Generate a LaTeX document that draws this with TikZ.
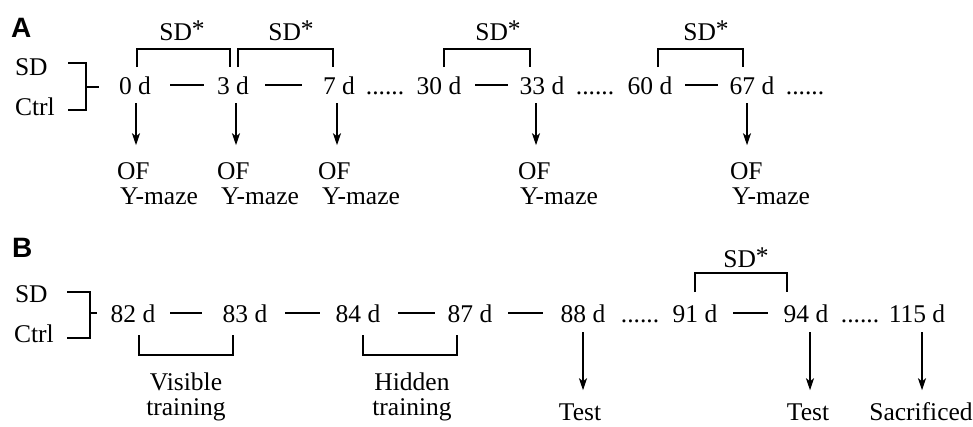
\documentclass[tikz,border=0pt]{standalone}
\usepackage{fontspec}
\setmainfont{Liberation Serif}
\newfontfamily\panelfont{Liberation Sans}
\usetikzlibrary{arrows.meta}
\newcommand{\sdstar}{SD\raisebox{2.5pt}{*}}
\begin{document}
\begin{tikzpicture}[x=1pt,y=-1pt,
  txt/.style={font=\fontsize{25.5}{24.5}\selectfont, inner sep=0pt, outer sep=0pt},
  day/.style={txt, anchor=base},
  lefttxt/.style={txt, anchor=base west},
  panel/.style={font=\panelfont\bfseries\fontsize{28}{28}\selectfont, inner sep=0pt, anchor=base west},
  ln/.style={line width=1.9pt},
  arr/.style={line width=1.9pt, -{Stealth[length=12pt,width=8pt,inset=3pt]}},
  lab/.style={txt, anchor=north west, align=left},
  clab/.style={txt, anchor=north, align=center},
]
\useasboundingbox (0,0) rectangle (973,426);

% ---------------- Panel A ----------------
\node[panel] (pA) at (11,37) {A};
\node[lefttxt] (sdA) at (15,75) {SD};
\node[lefttxt] (ctA) at (15,115) {Ctrl};
\draw[ln] (68,63) -- (86,63) -- (86,110) -- (68,110);
\draw[ln] (86,87) -- (99,87);

\node[day] (d0)  at (135,94) {0 d};
\node[day] (d3)  at (233,94) {3 d};
\node[day] (d7)  at (339,94) {7 d};
\node[day] (e1)  at (385,94) {......};
\node[day] (d30) at (439,94) {30 d};
\node[day] (d33) at (542,94) {33 d};
\node[day] (e2)  at (595,94) {......};
\node[day] (d60) at (650,94) {60 d};
\node[day] (d67) at (752,94) {67 d};
\node[day] (e3)  at (805,94) {......};

\draw[ln, shorten <=35pt, shorten >=29pt] (d0.center) -- (d3.center);
\draw[ln, shorten <=32pt, shorten >=37pt] (d3.center) -- (d7.center);
\draw[ln, shorten <=36pt, shorten >=34pt] (d30.center) -- (d33.center);
\draw[ln, shorten <=35pt, shorten >=34pt] (d60.center) -- (d67.center);

% SD* brackets
\node[day] (sa1) at (182,40) {\sdstar};
\node[day] (sa2) at (291,40) {\sdstar};
\node[day] (sa3) at (498,40) {\sdstar};
\node[day] (sa4) at (706,40) {\sdstar};
\draw[ln] (137,67) -- (137,49) -- (230,49) -- (230,67);
\draw[ln] (238,67) -- (238,49) -- (333,49) -- (333,67);
\draw[ln] (444,67) -- (444,49) -- (530,49) -- (530,67);
\draw[ln] (658,67) -- (658,49) -- (743,49) -- (743,67);

% tests
\node[lab] (o0)  at (117,163) {OF\\\hspace*{3pt}Y-maze};
\node[lab] (o3)  at (217,163) {OF\\\hspace*{4pt}Y-maze};
\node[lab] (o7)  at (318,163) {OF\\\hspace*{4pt}Y-maze};
\node[lab] (o33) at (518,163) {OF\\\hspace*{2pt}Y-maze};
\node[lab] (o67) at (730,163) {OF\\\hspace*{2pt}Y-maze};
\draw[arr] ([xshift=1pt,yshift=-9pt]d0.south)  -- ([xshift=1pt,yshift=-51pt]d0.south);
\draw[arr] ([xshift=3pt,yshift=-9pt]d3.south)  -- ([xshift=3pt,yshift=-51pt]d3.south);
\draw[arr] ([xshift=-2pt,yshift=-9pt]d7.south) -- ([xshift=-2pt,yshift=-51pt]d7.south);
\draw[arr] ([xshift=-6pt,yshift=-9pt]d33.south) -- ([xshift=-6pt,yshift=-51pt]d33.south);
\draw[arr] ([xshift=-5pt,yshift=-9pt]d67.south) -- ([xshift=-5pt,yshift=-51pt]d67.south);

% ---------------- Panel B ----------------
\node[panel] (pB) at (12,257) {B};
\node[lefttxt] (sdB) at (15,302) {SD};
\node[lefttxt] (ctB) at (14,342) {Ctrl};
\draw[ln] (67,292) -- (90,292) -- (90,338) -- (67,338);
\draw[ln] (90,313) -- (97,313);

\node[day] (n82)  at (133,322) {82 d};
\node[day] (n83)  at (245,322) {83 d};
\node[day] (n84)  at (358,322) {84 d};
\node[day] (n87)  at (470,322) {87 d};
\node[day] (n88)  at (583,322) {88 d};
\node[day] (f1)   at (640,322) {......};
\node[day] (n91)  at (695,322) {91 d};
\node[day] (n94)  at (806,322) {94 d};
\node[day] (f2)   at (860,322) {......};
\node[day] (n115) at (917,322) {115 d};

\draw[ln, shorten <=37pt, shorten >=43pt] (n82.center) -- (n83.center);
\draw[ln, shorten <=40pt, shorten >=38pt] (n83.center) -- (n84.center);
\draw[ln, shorten <=40pt, shorten >=35pt] (n84.center) -- (n87.center);
\draw[ln, shorten <=38pt, shorten >=40pt] (n87.center) -- (n88.center);
\draw[ln, shorten <=38pt, shorten >=38pt] (n91.center) -- (n94.center);

\node[day] (sb1) at (746,267) {\sdstar};
\draw[ln] (695,292) -- (695,273) -- (787,273) -- (787,292);

% training brackets
\draw[ln] (139,335) -- (139,355) -- (233,355) -- (233,335);
\draw[ln] (363,335) -- (363,355) -- (457,355) -- (457,335);
\node[clab] (vis) at (186,373) {Visible\\training};
\node[clab] (hid) at (412,373) {Hidden\\training};

% outcomes
\node[day] (t88)  at (580,420) {Test};
\node[day] (t94)  at (808,420) {Test};
\node[day] (t115) at (921,420) {Sacrificed};
\draw[arr] ([yshift=-10pt]n88.south) -- ([yshift=-68pt]n88.south);
\draw[arr] ([xshift=4pt,yshift=-10pt]n94.south) -- ([xshift=4pt,yshift=-68pt]n94.south);
\draw[arr] ([xshift=5pt,yshift=-10pt]n115.south) -- ([xshift=5pt,yshift=-68pt]n115.south);
\end{tikzpicture}
\end{document}
